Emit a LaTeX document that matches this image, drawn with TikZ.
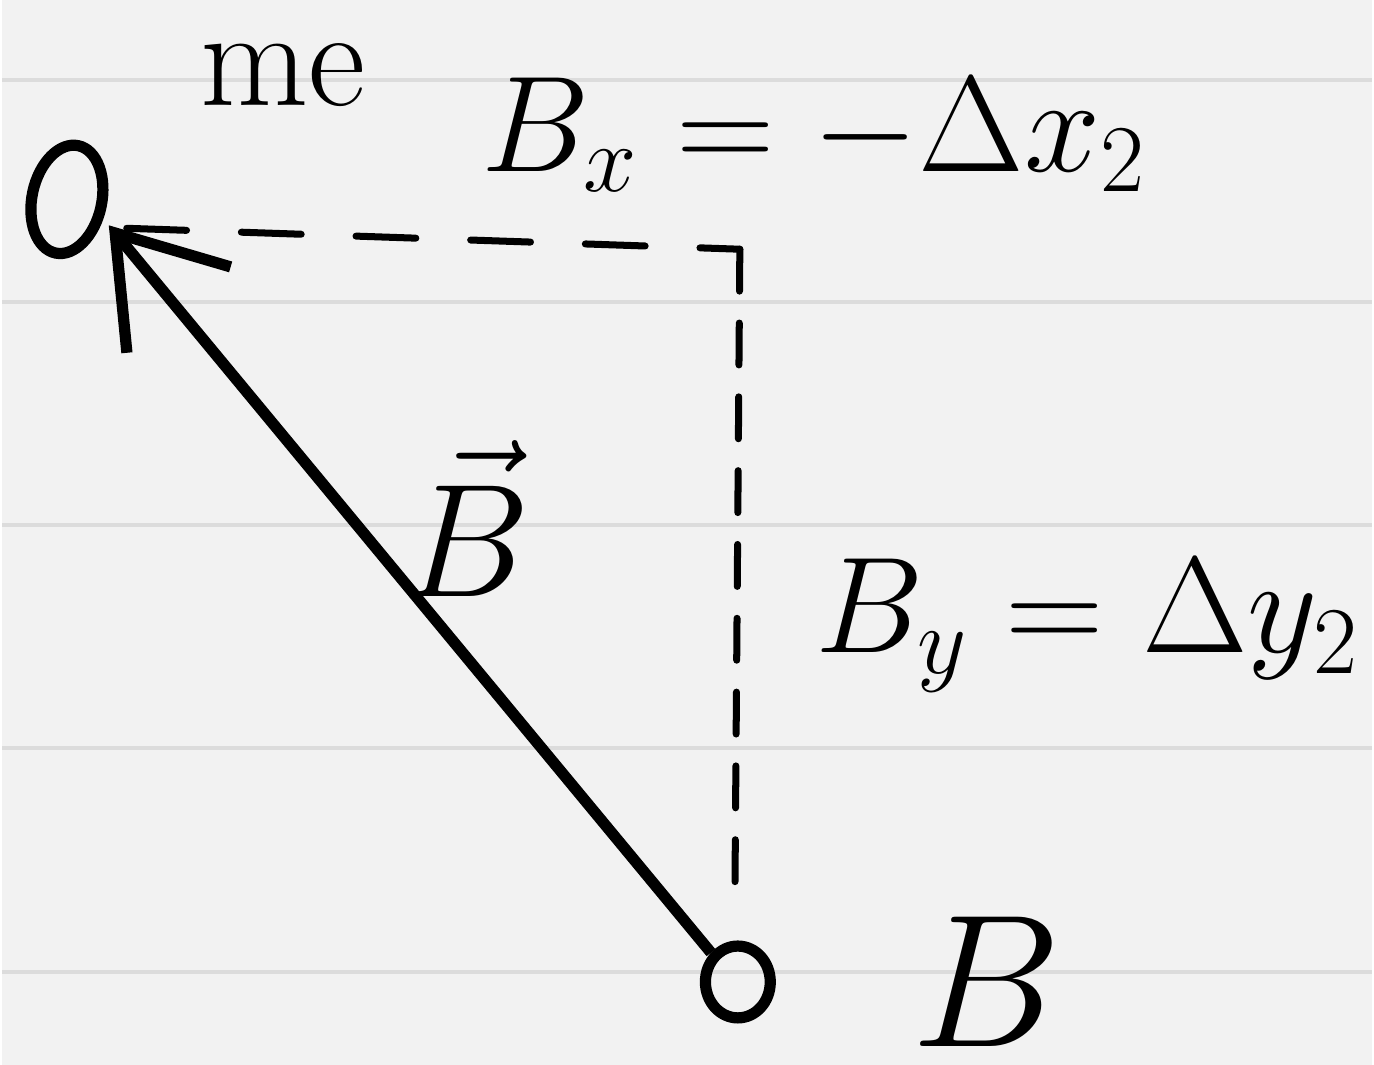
\RequirePackage{fix-cm}
\documentclass[tikz,border=0pt]{standalone}
\usepackage{amsmath}
\usepackage{tikz}
\usetikzlibrary{positioning, shapes.geometric, arrows.meta, calc}

\definecolor{paper}{HTML}{F2F2F2}
\definecolor{ruling}{HTML}{DCDCDC}

\begin{document}
\begin{tikzpicture}[
	x=0.01cm, y=-0.01cm,
	% --- Styles ---
	point/.style={
		ellipse, draw, line width=3.2pt, inner sep=0pt
	},
	vecline/.style={
		draw, line width=3.2pt, -{Straight Barb[length=1cm, width=1.35cm, line width=3.2pt]}
	},
	compline/.style={
		draw, line width=2pt, line cap=round
	},
	hand/.style={
		font=\fontsize{#1}{#1}\selectfont, inner sep=0pt
	}
	]
	
	% --- Paper ---
	\fill [paper] (0,0) rectangle (1374,1068);
	\foreach \yl in {80, 303, 527, 750, 975}
		\draw [ruling, line width=1.2pt] (0,\yl) -- (1374,\yl);
	\useasboundingbox (0,0) rectangle (1374,1068);
	
	% --- Points ---
	\node [point, minimum width=0.7cm, minimum height=1.1cm, rotate=-12] (me) at (65,200) {};
	\node [point, minimum width=0.65cm, minimum height=0.72cm] (bpt) at (738,985) {};
	\coordinate (me_tip) at ($(me.center)+(42,26)$);
	
	% --- Labels of the points ---
	\node [hand=40, anchor=base] (me_lbl) at (282,106) {me};
	\node [hand=54, anchor=base] (b_lbl) at (988,1050) {$B$};
	
	% --- Vector from B to me ---
	\draw [vecline] (bpt.north west) -- (me_tip);
	\node [hand=46, anchor=base] (vec_lbl) at (466,598) {$\vec{B}$};
	
	% --- Components (dashed) ---
	\coordinate (corner) at (740,250);
	\coordinate (vert_end) at (735,905);
	\draw [compline, dash pattern=on 0.6cm off 0.55cm] ($(me_tip)+(18,3)$) -- (corner);
	\draw [compline, dash pattern=on 0.42cm off 0.32cm] (corner) -- (vert_end);
	
	% --- Component labels ---
	\node [hand=39, anchor=base west] (bx_lbl) at (480,172) {$B_x = -\Delta x_2$};
	\node [hand=39, anchor=base west] (by_lbl) at (815,655) {$B_y = \Delta y_2$};
	
\end{tikzpicture}
\end{document}
